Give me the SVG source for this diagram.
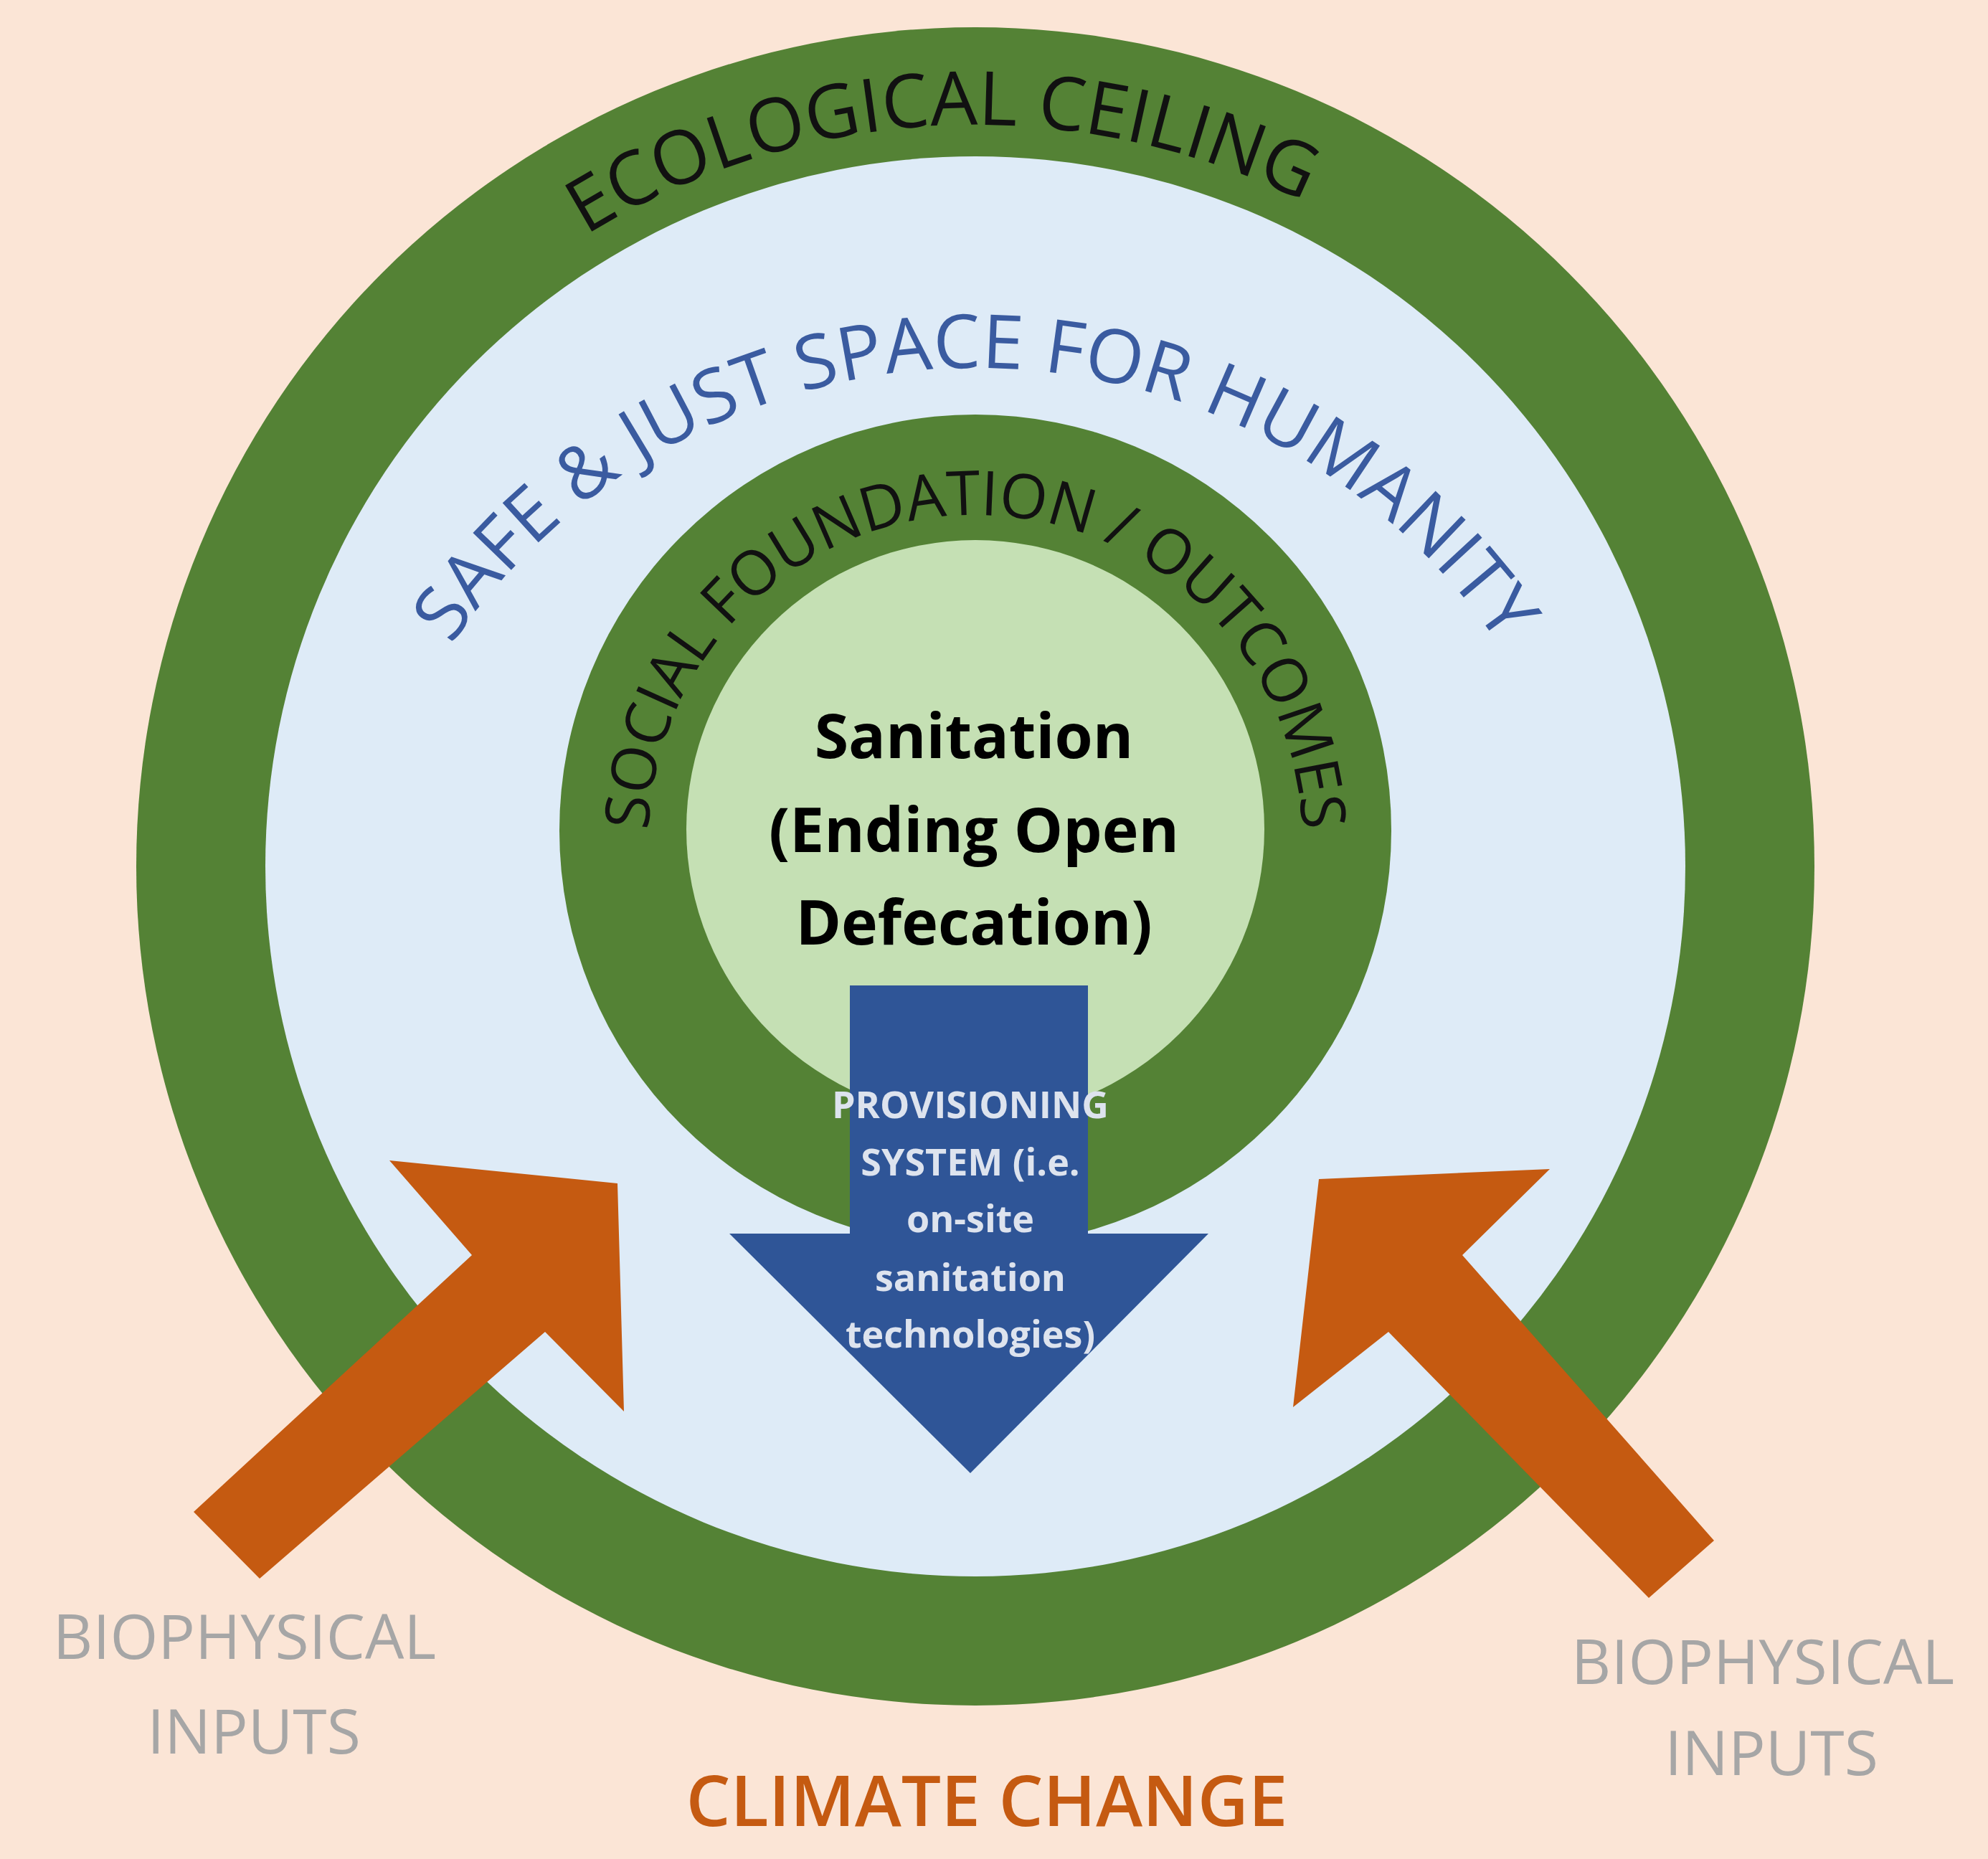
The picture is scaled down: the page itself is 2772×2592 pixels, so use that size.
<svg xmlns="http://www.w3.org/2000/svg" xmlns:xlink="http://www.w3.org/1999/xlink" width="2772" height="2592" viewBox="0 0 2772 2592">
<style>
.ring{fill:#548235}
.arc{font-family:"Open Sans","Liberation Sans",sans-serif}
.center{font-family:"Open Sans","Liberation Sans",sans-serif;font-weight:700;font-size:86px;fill:#000;text-anchor:middle}
.prov{font-family:"Open Sans","Liberation Sans",sans-serif;font-weight:700;font-size:52px;fill:#DDE3EE;text-anchor:middle}
.bio{font-family:"Open Sans","Liberation Sans",sans-serif;font-size:86px;fill:#A6A6A6;text-anchor:middle}
</style>
<defs>
<path id="pEco" d="M 326 1208 A 1034 1034 0 0 1 2394 1208"/>
<path id="pSafe" d="M 476 1397 A 884 884 0 0 1 2244 1397"/>
<path id="pSoc" d="M 904 1174 A 456 456 0 0 1 1816 1174"/>
</defs>
<rect width="2772" height="2592" fill="#FBE5D6"/>
<g id="ecological-ceiling">
<circle cx="1360" cy="1208" r="1170" class="ring"/>
<circle cx="1360" cy="1208" r="990" fill="#DEEBF7"/>
<text class="arc" font-size="104" fill="#111"><textPath xlink:href="#pEco" startOffset="48.5%" text-anchor="middle">ECOLOGICAL CEILING</textPath></text>
</g>
<g id="safe-just-space">
<text class="arc" font-size="104" fill="#3A5BA0"><textPath xlink:href="#pSafe" startOffset="50%" text-anchor="middle" textLength="1720" lengthAdjust="spacing">SAFE &amp; JUST SPACE FOR HUMANITY</textPath></text>
</g>
<g id="social-foundation">
<circle cx="1360" cy="1158" r="580" class="ring"/>
<circle cx="1360" cy="1156" r="403" fill="#C5E0B4"/>
<text class="arc" font-size="86" fill="#111"><textPath xlink:href="#pSoc" startOffset="50%" text-anchor="middle" textLength="1400" lengthAdjust="spacing">SOCIAL FOUNDATION / OUTCOMES</textPath></text>
</g>
<g id="sanitation">
<text class="center" x="1358" y="1057">Sanitation</text>
<text class="center" x="1358" y="1188">(Ending Open</text>
<text class="center" x="1358" y="1317">Defecation)</text>
</g>
<g id="connectors">
<polygon id="provisioning-arrow" fill="#2F5597" points="1185,1374 1517,1374 1517,1720 1685,1720 1353,2054 1017,1720 1185,1720"/>
<polygon id="left-input-arrow" fill="#C55A11" points="270,2108 658,1750 543,1618 861,1650 870,1968 760,1857 362,2201"/>
<polygon id="right-input-arrow" fill="#C55A11" points="1839,1644 2161,1630 2039,1750 2390,2148 2299,2228 1936,1857 1803,1962"/>
</g>
<g id="provisioning-system">
<text class="prov" x="1353" y="1559">PROVISIONING</text>
<text class="prov" x="1353" y="1639">SYSTEM (i.e.</text>
<text class="prov" x="1353" y="1718">on-site</text>
<text class="prov" x="1353" y="1800">sanitation</text>
<text class="prov" x="1353" y="1879">technologies)</text>
</g>
<g id="biophysical-left">
<text class="bio" x="341" y="2313">BIOPHYSICAL</text>
<text class="bio" x="354" y="2445">INPUTS</text>
</g>
<g id="biophysical-right">
<text class="bio" x="2458" y="2348">BIOPHYSICAL</text>
<text class="bio" x="2470" y="2475">INPUTS</text>
</g>
<g id="climate-change">
<text x="1376" y="2546" font-family="Open Sans, Liberation Sans, sans-serif" font-weight="600" font-size="98" fill="#C55A11" text-anchor="middle">CLIMATE CHANGE</text>
</g>
</svg>
